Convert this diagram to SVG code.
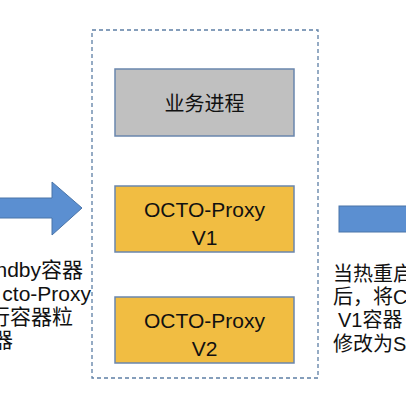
<svg xmlns="http://www.w3.org/2000/svg" width="406" height="406" viewBox="0 0 406 406">
<style>
.box{stroke:#6a86ad;stroke-width:1.5}
.gray{fill:#c0c0c0}
.yel{fill:#f1bd42}
.t{font-family:"Liberation Sans","Noto Sans CJK SC",sans-serif;fill:#111}
.c{text-anchor:middle}
.arrow{fill:#5b8fd1;stroke:#4a74a8;stroke-width:1}
</style>
<rect width="406" height="406" fill="#fff"/>
<g id="container">
<rect x="92" y="30" width="226" height="348" fill="none" stroke="#5d7fa5" stroke-width="1.3" stroke-dasharray="4,3"/>
</g>
<g id="biz">
<rect class="box gray" x="115" y="69" width="179" height="67"/>
<text class="t c" x="204.5" y="111" font-size="20">业务进程</text>
</g>
<g id="v1">
<rect class="box yel" x="115" y="186" width="179" height="66"/>
<text class="t c" x="204.5" y="216.5" font-size="21">OCTO-Proxy</text>
<text class="t c" x="204.5" y="245" font-size="21">V1</text>
</g>
<g id="v2">
<rect class="box yel" x="115" y="297" width="179" height="66"/>
<text class="t c" x="204.5" y="327.5" font-size="21">OCTO-Proxy</text>
<text class="t c" x="204.5" y="356" font-size="21">V2</text>
</g>
<g id="connectors">
<polygon class="arrow" points="-5,198 52,198 52,182 82,208 52,235 52,218 -5,218"/>
<rect class="arrow" x="339" y="206" width="75" height="26"/>
</g>
<g id="left-label" class="t" font-size="21" text-anchor="end">
<text x="83" y="277">ndby容器</text>
<text x="91" y="301">cto-Proxy</text>
<text x="73" y="324">行容器粒</text>
<text x="13" y="347">器</text>
</g>
<g id="right-label" class="t" font-size="20">
<text x="333" y="281">当热重启</text>
<text x="333" y="304">后，将C</text>
<text x="338" y="327">V1容器</text>
<text x="333" y="351">修改为S</text>
</g>
</svg>
